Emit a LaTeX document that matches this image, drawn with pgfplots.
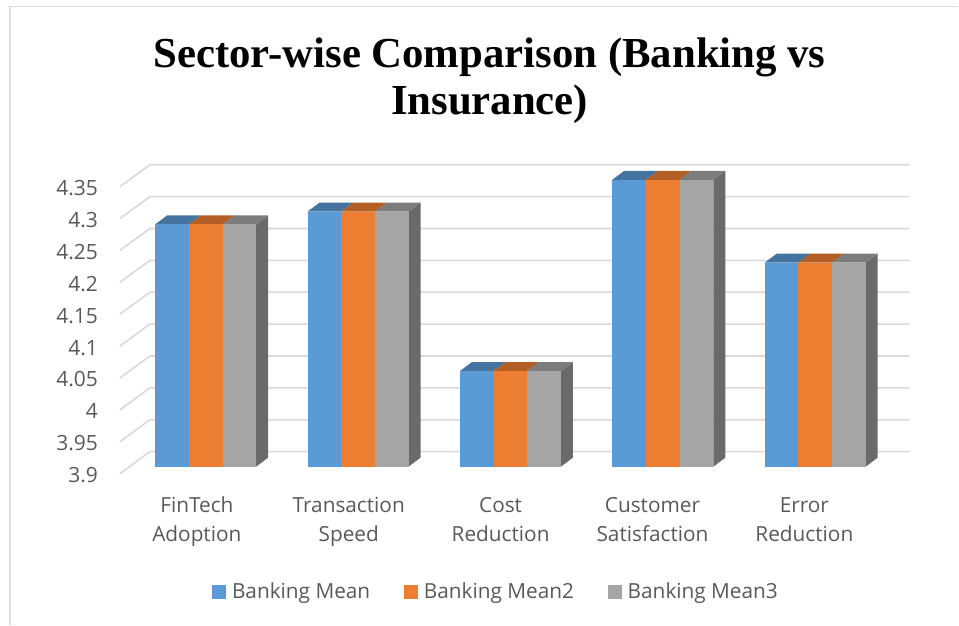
\documentclass[border=0pt]{standalone}
\usepackage{pgfplots}
\pgfplotsset{compat=1.18}
\usepackage{fontspec}
\setmainfont{Open Sans}
\newfontfamily\titlefont{Liberation Serif}
\definecolor{blueF}{HTML}{5B9BD5}
\definecolor{blueT}{HTML}{44739F}
\definecolor{orangeF}{HTML}{ED7D31}
\definecolor{orangeT}{HTML}{B25E25}
\definecolor{grayF}{HTML}{A5A5A5}
\definecolor{grayT}{HTML}{7C7C7C}
\definecolor{grayS}{HTML}{6A6A6A}
\definecolor{gridc}{HTML}{D9D9D9}
\definecolor{framec}{HTML}{DEDEDE}
\definecolor{textc}{HTML}{595959}
% scale: x is in points, one value unit is 638pt
\pgfmathsetmacro{\unit}{638}
\pgfmathsetmacro{\lift}{7/638}   % bars stand forward of the labelled wall
\pgfmathsetmacro{\dz}{9/638}     % depth of a bar, vertical part
\pgfmathsetmacro{\bw}{33.7}      % width of one bar
\pgfmathsetmacro{\dx}{12}        % depth of a bar, horizontal part
% one bar: #1 left x, #2 value, #3 front colour, #4 top colour
\newcommand{\barfront}[4]{%
  \addplot[fill=#4,draw=none,forget plot] coordinates
    {(#1,{#2+\lift}) ({#1+\bw},{#2+\lift}) ({#1+\bw+\dx},{#2+\lift+\dz}) ({#1+\dx},{#2+\lift+\dz})} --cycle;
  \addplot[fill=#3,draw=none,forget plot] coordinates
    {(#1,{3.9+\lift}) ({#1+\bw},{3.9+\lift}) ({#1+\bw},{#2+\lift}) (#1,{#2+\lift})} --cycle;
}
% a whole group of three bars with the dark side face: #1 left x, #2/#3/#4 values
\newcommand{\bargroup}[4]{%
  \addplot[fill=grayS,draw=none,forget plot] coordinates
    {({#1+3*\bw},{3.9+\lift}) ({#1+3*\bw+\dx},{3.9+\lift+\dz}) ({#1+3*\bw+\dx},{#4+\lift+\dz}) ({#1+3*\bw},{#4+\lift})} --cycle;
  \barfront{#1}{#2}{blueF}{blueT}
  \barfront{#1+\bw}{#3}{orangeF}{orangeT}
  \barfront{#1+2*\bw}{#4}{grayF}{grayT}
}
% one gridline running along the floor side wall and the back wall
\newcommand{\wall}[1]{%
  \addplot[gridc,line width=1.6pt,forget plot] coordinates
    {(120,#1) (150,{#1+22/638}) (910,{#1+22/638})};
}
\begin{document}
\begin{tikzpicture}[x=1pt,y=1pt]
  % page size and outer chart frame
  \path (-120,-151) rectangle (839,474);
  \draw[framec,line width=1.5pt] (-110,-151) -- (-110,467.5) -- (839,467.5);
  \begin{axis}[
    at={(0,0)},anchor=south west,
    width=790pt,height=310pt,scale only axis,
    xmin=120,xmax=910,
    ymin=3.9,ymax=4.3859,
    clip=false,
    axis lines=none,
    ytick={3.9,3.95,...,4.36},
  ]
    \wall{3.9}\wall{3.95}\wall{4.0}\wall{4.05}\wall{4.1}
    \wall{4.15}\wall{4.2}\wall{4.25}\wall{4.3}\wall{4.35}
    \bargroup{155.3}{4.28}{4.28}{4.28}
    \bargroup{307.8}{4.30}{4.30}{4.30}
    \bargroup{460.3}{4.05}{4.05}{4.05}
    \bargroup{612.8}{4.35}{4.35}{4.35}
    \bargroup{765.3}{4.22}{4.22}{4.22}
    % value scale
    \foreach \v/\t in {3.9/3.9,3.95/3.95,4.0/4,4.05/4.05,4.1/4.1,4.15/4.15,4.2/4.2,4.25/4.25,4.3/4.3,4.35/4.35}{
      \edef\tmp{\noexpand\node[anchor=east,text=textc,yshift=-1.5pt,font=\noexpand\fontsize{21}{24}\noexpand\selectfont] at (axis cs:101.5,\v) {\t};}\tmp
    }
    % category names
    \foreach \x/\a/\b in {197/FinTech/Adoption,349/Transaction/Speed,501/Cost/Reduction,653/Customer/Satisfaction,805/Error/Reduction}{
      \edef\tmp{\noexpand\node[align=center,text=textc,font=\noexpand\fontsize{20.8}{29}\noexpand\selectfont] at (axis cs:\x,3.9-48/638) {\noexpand\strut\a\noexpand\\\noexpand\strut\b};}\tmp
    }
  \end{axis}
  % title
  \node[font=\fontsize{42.8}{47}\selectfont\titlefont\bfseries,align=center] at (370,393) {Sector-wise Comparison (Banking vs\\Insurance)};
  % legend
  \foreach \x/\c/\t in {92/blueF/Banking Mean,284/orangeF/Banking Mean2,488/grayF/Banking Mean3}{
    \fill[\c] (\x,-125) rectangle ++(14,14);
    \node[anchor=west,text=textc,font=\fontsize{20.8}{24}\selectfont,inner sep=0pt] at (\x+20,-120) {\t};
  }
\end{tikzpicture}
\end{document}
